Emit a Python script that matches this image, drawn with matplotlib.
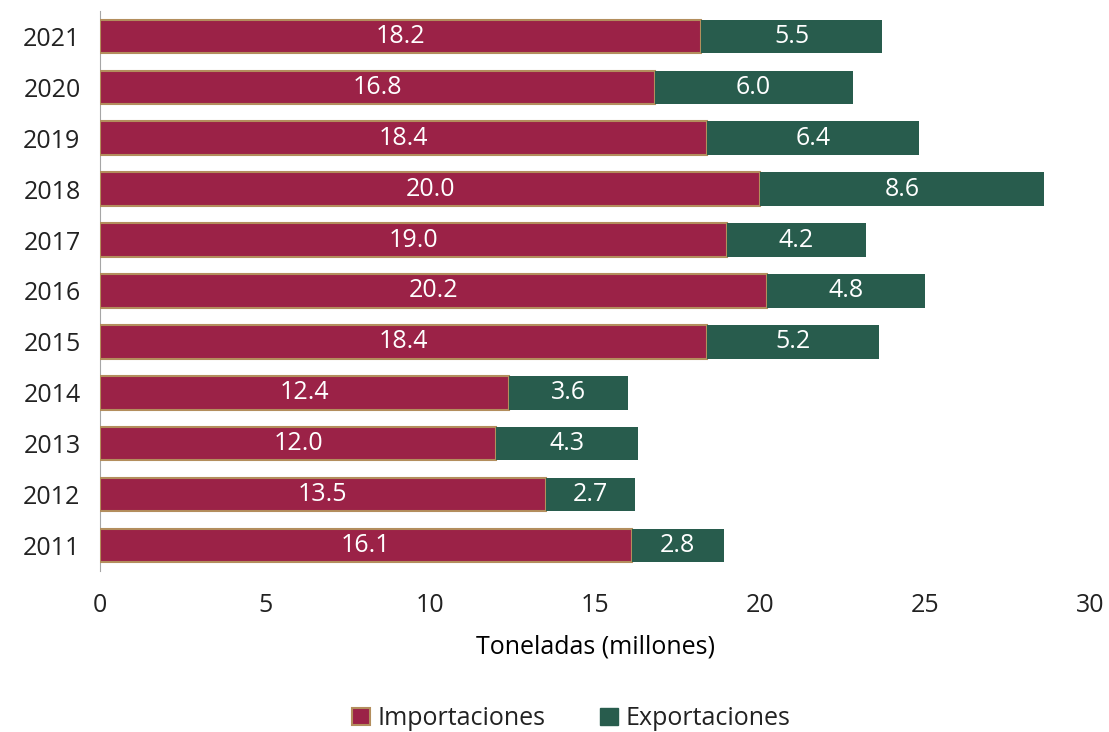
import matplotlib.pyplot as plt
from matplotlib.patches import Patch

years = ["2011", "2012", "2013", "2014", "2015", "2016", "2017", "2018", "2019", "2020", "2021"]
importaciones = [16.1, 13.5, 12.0, 12.4, 18.4, 20.2, 19.0, 20.0, 18.4, 16.8, 18.2]
exportaciones = [2.8, 2.7, 4.3, 3.6, 5.2, 4.8, 4.2, 8.6, 6.4, 6.0, 5.5]

IMP_COLOR = "#9B2247"
EXP_COLOR = "#285C4D"
EDGE = "#B38E5D"
TEXT = "#222222"
FS = 18

plt.rcParams["font.family"] = ["Open Sans", "DejaVu Sans"]

fig = plt.figure(figsize=(11.09, 7.32), dpi=100)
ax = fig.add_axes([0.0902, 0.22, 0.893, 0.765])

pos = range(len(years))
imp_bars = ax.barh(pos, importaciones, height=0.66, color=IMP_COLOR,
                   edgecolor=EDGE, linewidth=1.5, zorder=3)
exp_bars = ax.barh(pos, exportaciones, left=importaciones, height=0.66,
                   color=EXP_COLOR, linewidth=0, zorder=3)

# value labels centred inside each segment
for bars, vals, lefts in ((imp_bars, importaciones, [0] * len(years)),
                          (exp_bars, exportaciones, importaciones)):
    for bar, v, l in zip(bars, vals, lefts):
        ax.text(l + v / 2, bar.get_y() + bar.get_height() / 2, f"{v:.1f}",
                ha="center", va="center", color="white", fontsize=FS, zorder=4)

ax.set_yticks(list(pos))
ax.set_yticklabels(years)
ax.set_ylim(-0.5, 10.5)
ax.set_xlim(0, 30)
ax.set_xticks([0, 5, 10, 15, 20, 25, 30])
ax.tick_params(axis="both", length=0, labelsize=FS, labelcolor=TEXT)
ax.tick_params(axis="x", pad=16)
ax.tick_params(axis="y", pad=14)
for s in ("top", "right", "bottom"):
    ax.spines[s].set_visible(False)
ax.spines["left"].set_color("#A6A6A6")
ax.set_xlabel("Toneladas (millones)", fontsize=FS, color="black", labelpad=12)

handles = [Patch(facecolor=IMP_COLOR, edgecolor=EDGE, linewidth=1.5),
           Patch(facecolor=EXP_COLOR, edgecolor=EXP_COLOR)]
fig.legend(handles, ["Importaciones", "Exportaciones"], loc="center",
           bbox_to_anchor=(0.515, 0.018), ncol=2, frameon=False, fontsize=FS,
           handlelength=0.7, handleheight=0.7, handletextpad=0.3,
           columnspacing=2.2, labelcolor=TEXT)

fig.savefig("out.png", dpi=100)
